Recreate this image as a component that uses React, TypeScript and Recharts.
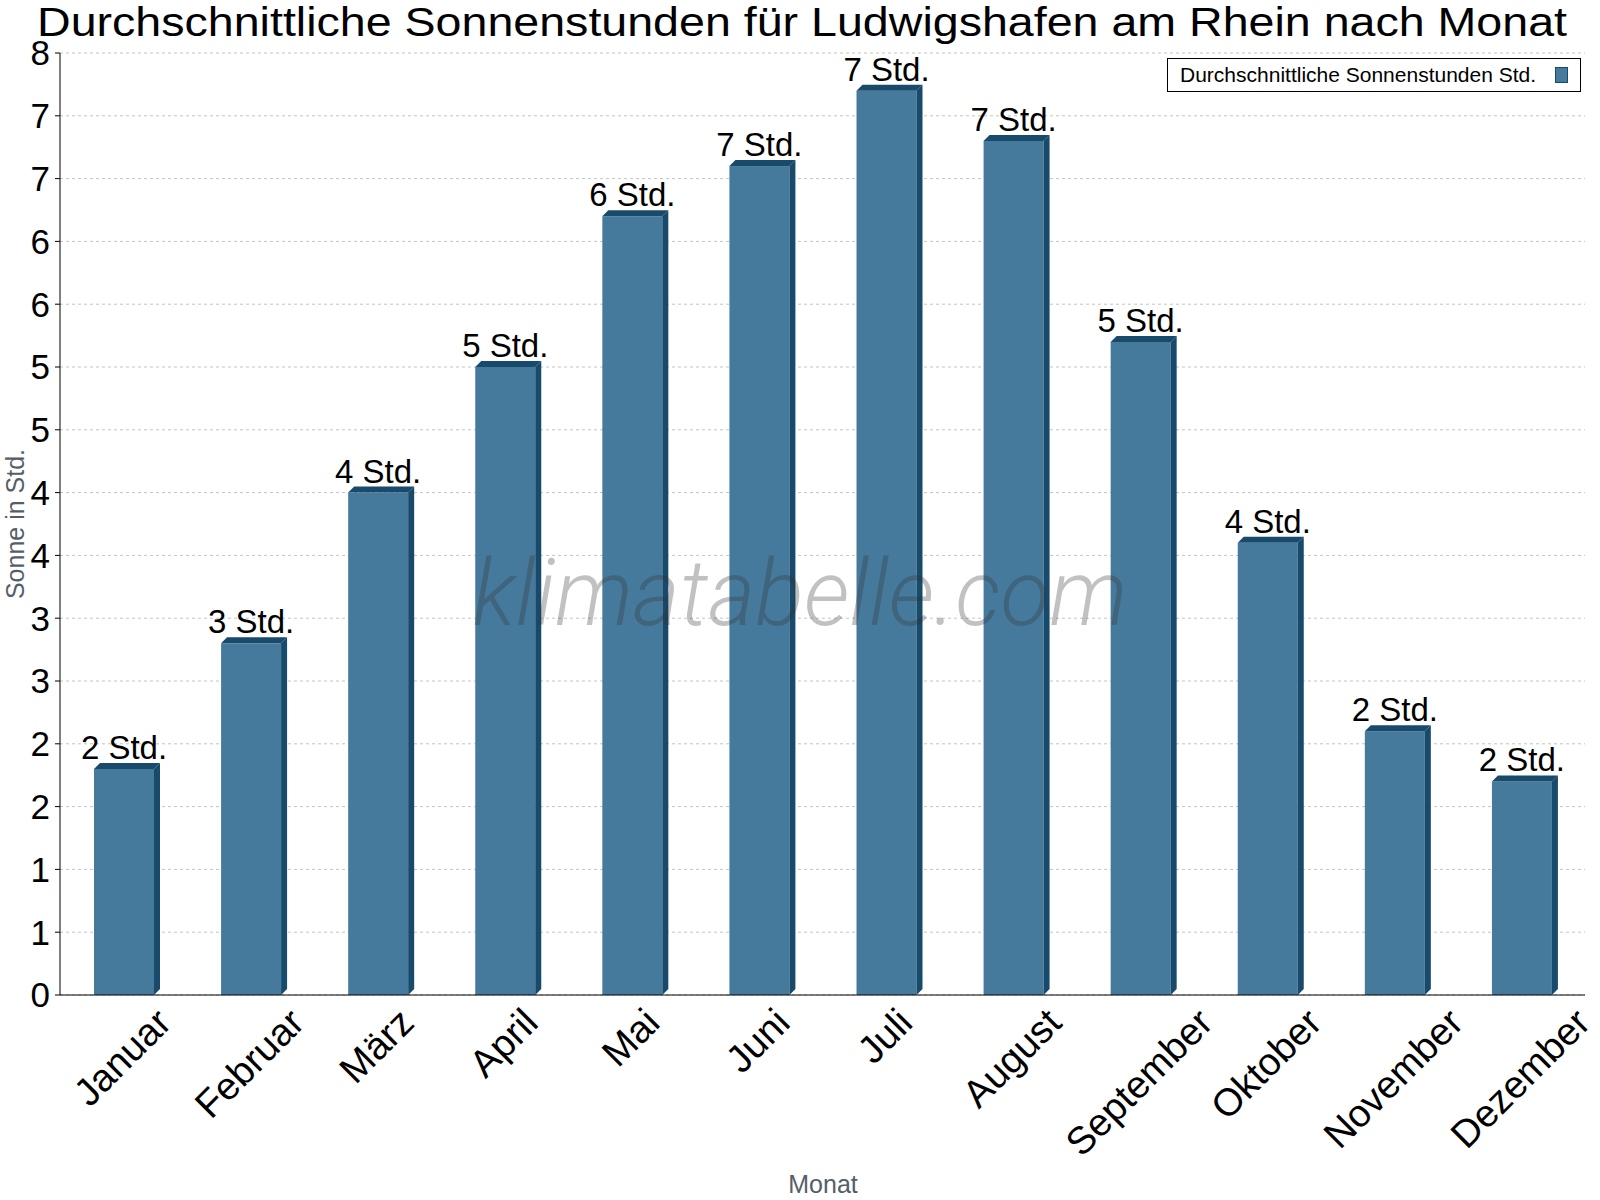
import React from "react";
import {
  BarChart,
  Bar,
  XAxis,
  YAxis,
  CartesianGrid,
  LabelList,
  Legend,
  ReferenceLine,
} from "recharts";

// Data
const months = [
  "Januar",
  "Februar",
  "März",
  "April",
  "Mai",
  "Juni",
  "Juli",
  "August",
  "September",
  "Oktober",
  "November",
  "Dezember",
];
const sunHours = [1.8, 2.8, 4.0, 5.0, 6.2, 6.6, 7.2, 6.8, 5.2, 3.6, 2.1, 1.7];
const yTicks = [0, 0.5, 1, 1.5, 2, 2.5, 3, 3.5, 4, 4.5, 5, 5.5, 6, 6.5, 7, 7.5];
const yTickLabels = ["0", "1", "1", "2", "2", "3", "3", "4", "4", "5", "5", "6", "6", "7", "7", "8"];
const edgeTicks = [0, 1, 2, 3, 4, 5, 6, 7, 8, 9, 10, 11, 12];

const chartData = months.map((month, i) => ({ month, sun: sunHours[i] }));

const FONT = '"Liberation Sans", Arial, sans-serif';
const FRONT = "#467a9d";
const DARK = "#184a6b";
const AXIS_GRAY = "#555e68";
const PLOT_BOTTOM = 995;
const LABEL_SIZE = 38.5;

let measureCtx: CanvasRenderingContext2D | null = null;
const textWidth = (s: string, size: number) => {
  if (!measureCtx) measureCtx = document.createElement("canvas").getContext("2d");
  if (!measureCtx) return s.length * size * 0.55;
  measureCtx.font = `${size}px "Liberation Sans"`;
  return measureCtx.measureText(s).width;
};

// rotated month label, bounding box centered under the bar
const MonthTick = (props: any) => {
  const { x, payload } = props;
  const w = textWidth(payload.value, LABEL_SIZE);
  const ex = x + w * 0.354 + 8;
  const ey = PLOT_BOTTOM + 30;
  return (
    <text
      x={0}
      y={0}
      transform={`translate(${ex},${ey}) rotate(-45)`}
      textAnchor="end"
      fontSize={LABEL_SIZE}
      fontFamily={FONT}
      fill="#000"
    >
      {payload.value}
    </text>
  );
};

// bar with a small fake 3D top and side
const Bar3D = (props: any) => {
  const { x, y, width, height } = props;
  const d = 6;
  return (
    <g>
      <rect x={x} y={y} width={width} height={height} fill={FRONT} />
      <polygon
        points={`${x},${y} ${x + d},${y - d} ${x + width + d},${y - d} ${x + width},${y}`}
        fill={DARK}
      />
      <polygon
        points={`${x + width},${y} ${x + width + d},${y - d} ${x + width + d},${y + height - d} ${x + width},${y + height}`}
        fill={DARK}
      />
    </g>
  );
};

const ValueLabel = (props: any) => {
  const { x, y, width, value } = props;
  return (
    <text
      x={x + width / 2}
      y={y - 10}
      textAnchor="middle"
      fontSize={33}
      fontFamily={FONT}
      fill="#000"
    >
      {`${Math.round(value)} Std.`}
    </text>
  );
};

const YTitle = (props: any) => {
  const vb = props.viewBox || { x: 0, y: 53, width: 60, height: 942 };
  const cx = vb.x + 15;
  const cy = vb.y + vb.height / 2;
  return (
    <text
      x={cx}
      y={cy}
      transform={`rotate(-90, ${cx}, ${cy})`}
      textAnchor="middle"
      dominantBaseline="central"
      fontSize={25}
      fontFamily={FONT}
      fill={AXIS_GRAY}
    >
      Sonne in Std.
    </text>
  );
};

const LegendBox = (props: any) => {
  const item = props.payload && props.payload[0];
  return (
    <div
      style={{
        boxSizing: "border-box",
        width: 414,
        height: 34,
        border: "1px solid #000",
        background: "#fff",
        display: "flex",
        alignItems: "center",
        justifyContent: "space-between",
        padding: "0 12px 0 12px",
        fontFamily: FONT,
        fontSize: 21,
        color: "#000",
      }}
    >
      <span>{item ? item.value : ""}</span>
      <span
        style={{
          display: "inline-block",
          boxSizing: "border-box",
          width: 13,
          height: 16,
          background: FRONT,
          border: `1px solid ${DARK}`,
        }}
      />
    </div>
  );
};

export default function App() {
  return (
    <div style={{ position: "absolute", left: 0, top: 0, width: 1600, height: 1200, background: "#fff" }}>
      <BarChart
        width={1600}
        height={1200}
        data={chartData}
        margin={{ top: 53, right: 15, left: 0, bottom: 0 }}
      >
        <CartesianGrid vertical={false} stroke="#c4c4c4" strokeDasharray="3 3" />
        <XAxis
          xAxisId="edges"
          type="number"
          domain={[0, 12]}
          ticks={edgeTicks}
          height={0}
          axisLine={false}
          tickLine={{ stroke: "#000" }}
          tickSize={6}
          tick={() => <g />}
        />
        <XAxis
          dataKey="month"
          height={205}
          interval={0}
          axisLine={{ stroke: "#000" }}
          tickLine={false}
          tick={<MonthTick />}
        />
        <YAxis
          width={60}
          domain={[0, 7.5]}
          ticks={yTicks}
          interval={0}
          tickFormatter={(v: number) => yTickLabels[yTicks.indexOf(v)] ?? ""}
          tick={{ fontSize: 35, fontFamily: FONT, fill: "#000" }}
          axisLine={{ stroke: "#000" }}
          tickLine={{ stroke: "#000" }}
          tickSize={5}
          tickMargin={5}
          label={<YTitle />}
        />
        <ReferenceLine xAxisId="edges" x={12} stroke="#000" />
        <Legend
          layout="vertical"
          align="center"
          verticalAlign="middle"
          wrapperStyle={{ position: "absolute", left: 1167, top: 58, width: 414, height: 34 }}
          content={<LegendBox />}
        />
        <Bar
          dataKey="sun"
          name="Durchschnittliche Sonnenstunden Std."
          fill={FRONT}
          barSize={60}
          shape={<Bar3D />}
          isAnimationActive={false}
        >
          <LabelList dataKey="sun" content={<ValueLabel />} />
        </Bar>
      </BarChart>
      <svg
        width={1600}
        height={1200}
        style={{ position: "absolute", left: 0, top: 0, pointerEvents: "none" }}
      >
        <text
          x={802}
          y={36}
          textAnchor="middle"
          fontSize={41}
          fontFamily={FONT}
          fill="#000"
          textLength={1530}
          lengthAdjust="spacingAndGlyphs"
        >
          Durchschnittliche Sonnenstunden für Ludwigshafen am Rhein nach Monat
        </text>
        <text
          x={800}
          y={625}
          textAnchor="middle"
          fontSize={92}
          fontFamily="Roboto, 'Open Sans', sans-serif"
          fontStyle="italic"
          fontWeight={300}
          fill="rgba(50,50,50,0.3)"
          textLength={655}
          lengthAdjust="spacingAndGlyphs"
        >
          klimatabelle.com
        </text>
        <text x={823} y={1193} textAnchor="middle" fontSize={25} fontFamily={FONT} fill={AXIS_GRAY}>
          Monat
        </text>
      </svg>
    </div>
  );
}
